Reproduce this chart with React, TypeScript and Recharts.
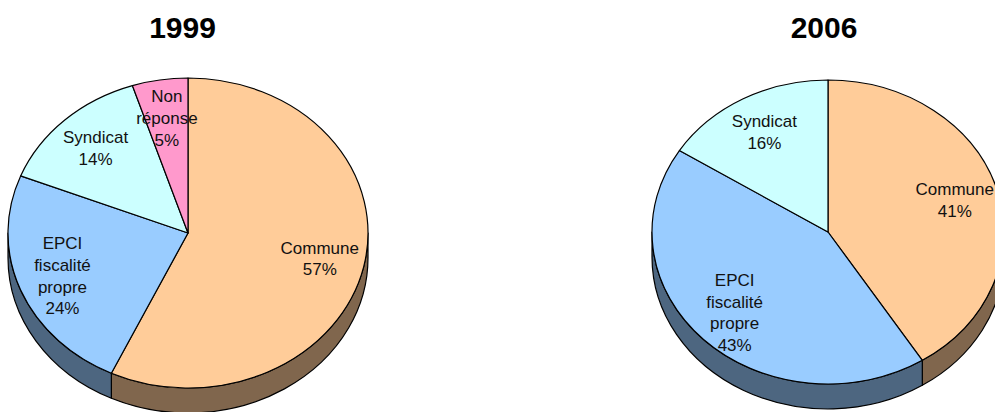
import React from "react";
import { PieChart, Pie, Cell } from "recharts";

// 1999 survey
const names1999 = ["Commune", "EPCI\nfiscalité\npropre", "Syndicat", "Non\nréponse"];
const values1999 = [57, 24, 14, 5];
const colors1999 = ["#FFCC99", "#99CCFF", "#CCFFFF", "#FF99CC"];

// 2006 survey
const names2006 = ["Commune", "EPCI\nfiscalité\npropre", "Syndicat"];
const values2006 = [41, 43, 16];
const colors2006 = ["#FFCC99", "#99CCFF", "#CCFFFF"];

const titles = ["1999", "2006"];

const data1999 = names1999.map((name, i) => ({ name, value: values1999[i] }));
const data2006 = names2006.map((name, i) => ({ name, value: values2006[i] }));

const RAD = Math.PI / 180;
const FONT = "'Liberation Sans', Arial, sans-serif";

// half-brightness colour for the pie's side wall
function darken(hex: string) {
  const n = parseInt(hex.slice(1), 16);
  const r = Math.round(((n >> 16) & 255) / 2);
  const g = Math.round(((n >> 8) & 255) / 2);
  const b = Math.round((n & 255) / 2);
  return `rgb(${r},${g},${b})`;
}

// draws each sector as a tilted (elliptical) slice with a side wall
function tiltedSlice(ry: number, depth: number) {
  return (props: any) => {
    const { cx, cy, outerRadius: rx, startAngle, endAngle, fill } = props;
    const s = Math.max(startAngle, endAngle);
    const e = Math.min(startAngle, endAngle);
    const pt = (a: number, dy = 0) => [cx + rx * Math.cos(a * RAD), cy - ry * Math.sin(a * RAD) + dy];

    const sides: string[] = [];
    for (let k = -2; k <= 1; k++) {
      const lo = Math.max(e, -180 + 360 * k);
      const hi = Math.min(s, 360 * k);
      if (hi - lo > 0.01) {
        const [x1, y1] = pt(hi);
        const [x2, y2] = pt(lo);
        sides.push(
          `M${x1},${y1} A${rx},${ry} 0 0 1 ${x2},${y2} L${x2},${y2 + depth} A${rx},${ry} 0 0 0 ${x1},${y1 + depth} Z`
        );
      }
    }

    const [x1, y1] = pt(s);
    const [x2, y2] = pt(e);
    const large = s - e > 180 ? 1 : 0;
    const top = `M${cx},${cy} L${x1},${y1} A${rx},${ry} 0 ${large} 1 ${x2},${y2} Z`;

    return (
      <g>
        {sides.map((d, i) => (
          <path key={i} d={d} fill={darken(fill)} stroke="#000" strokeWidth={1.2} strokeLinejoin="round" />
        ))}
        <path d={top} fill={fill} stroke="#000" strokeWidth={1.2} strokeLinejoin="round" />
      </g>
    );
  };
}

function sliceLabel(ry: number) {
  return (props: any) => {
    const { cx, cy, midAngle, outerRadius, payload, value } = props;
    const f = 0.75;
    const x = cx + f * outerRadius * Math.cos(midAngle * RAD);
    const y = cy - f * ry * Math.sin(midAngle * RAD);
    const lines = [...String(payload?.name ?? "").split("\n"), `${value}%`];
    const lh = 21.7;
    const y0 = y - ((lines.length - 1) * lh) / 2;
    return (
      <text
        x={x}
        y={y0}
        textAnchor="middle"
        dominantBaseline="central"
        fontFamily={FONT}
        fontSize={17}
        fill="#111"
      >
        {lines.map((l, i) => (
          <tspan key={i} x={x} y={y0 + i * lh}>
            {l}
          </tspan>
        ))}
      </text>
    );
  };
}

export default function App() {
  const W = 995;
  const H = 412;
  const left = { cx: 188, cy: 233, rx: 180, ry: 155, depth: 25 };
  const right = { cx: 828, cy: 232, rx: 176, ry: 152, depth: 25 };

  return (
    <div style={{ position: "absolute", left: 0, top: 0, width: W, height: H, background: "#fff", overflow: "hidden" }}>
      <PieChart width={W} height={H} margin={{ top: 0, right: 0, bottom: 0, left: 0 }}>
        <Pie
          data={data1999}
          dataKey="value"
          nameKey="name"
          cx={left.cx}
          cy={left.cy}
          outerRadius={left.rx}
          startAngle={90}
          endAngle={-270}
          stroke="#000"
          labelLine={false}
          label={sliceLabel(left.ry)}
          shape={tiltedSlice(left.ry, left.depth)}
          isAnimationActive={false}
        >
          {data1999.map((d, i) => (
            <Cell key={d.name} fill={colors1999[i]} />
          ))}
        </Pie>
        <Pie
          data={data2006}
          dataKey="value"
          nameKey="name"
          cx={right.cx}
          cy={right.cy}
          outerRadius={right.rx}
          startAngle={90}
          endAngle={-270}
          stroke="#000"
          labelLine={false}
          label={sliceLabel(right.ry)}
          shape={tiltedSlice(right.ry, right.depth)}
          isAnimationActive={false}
        >
          {data2006.map((d, i) => (
            <Cell key={d.name} fill={colors2006[i]} />
          ))}
        </Pie>
      </PieChart>
      <svg width={W} height={H} style={{ position: "absolute", left: 0, top: 0, pointerEvents: "none" }}>
        <text x={182.5} y={37.5} textAnchor="middle" fontFamily={FONT} fontWeight="bold" fontSize={30} fill="#000">
          {titles[0]}
        </text>
        <text x={824} y={37.5} textAnchor="middle" fontFamily={FONT} fontWeight="bold" fontSize={30} fill="#000">
          {titles[1]}
        </text>
      </svg>
    </div>
  );
}
